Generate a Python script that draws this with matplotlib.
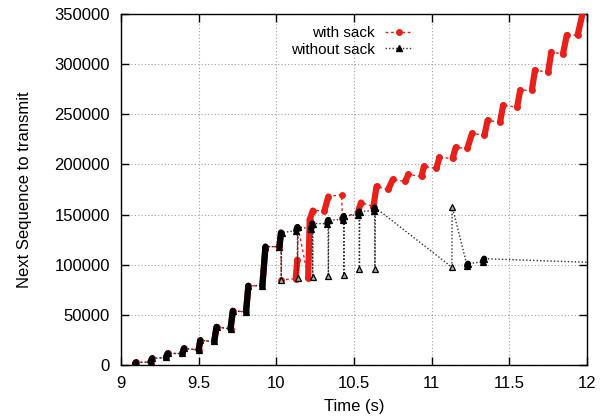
import numpy as np
import matplotlib.pyplot as plt

plt.rcParams['font.family'] = ['Liberation Sans', 'DejaVu Sans']

# sequence trace, "without sack" (path order), flag = 1 -> segment to next point is a packet burst
nosack_t = [9.09, 9.095, 9.19, 9.20, 9.29, 9.30, 9.395, 9.405, 9.50, 9.51,
            9.60, 9.615, 9.705, 9.72, 9.805, 9.82, 9.91, 9.93, 10.02, 10.03,
            10.032, 10.034, 10.128, 10.135, 10.137, 10.139, 10.225, 10.232, 10.234, 10.236,
            10.328, 10.333, 10.335, 10.337, 10.428, 10.433, 10.435, 10.437, 10.528, 10.533,
            10.535, 10.537, 10.628, 10.633, 10.635, 10.637, 11.13, 11.132, 11.228, 11.234,
            11.33, 11.338, 13.0]
nosack_s = [1000, 2500, 3000, 6500, 7500, 11500, 11500, 16500, 15000, 24500,
            23500, 38000, 36000, 54000, 53000, 79000, 79000, 118000, 118000, 132000,
            85000, 132000, 134000, 137500, 86500, 137500, 136000, 141000, 88000, 141000,
            141000, 144500, 88500, 144500, 145000, 148500, 90000, 148500, 150000, 153000,
            95500, 153000, 154000, 157000, 96000, 157000, 97500, 158000, 99000, 101000,
            103000, 106000, 97000]
nosack_burst = [1, 0, 1, 0, 1, 0, 1, 0, 1, 0,
                1, 0, 1, 0, 1, 0, 1, 0, 1, 0,
                0, 0, 1, 0, 0, 0, 1, 0, 0, 0,
                1, 0, 0, 0, 1, 0, 0, 0, 1, 0,
                0, 0, 1, 0, 0, 0, 0, 0, 1, 0,
                1, 0, 0]

# "with sack"
sack_t = [9.09, 9.095, 9.19, 9.20, 9.29, 9.30, 9.395, 9.405, 9.50, 9.51,
          9.60, 9.615, 9.705, 9.72, 9.805, 9.82, 9.91, 9.93, 10.02, 10.03,
          10.032, 10.125, 10.135, 10.14, 10.205, 10.215, 10.235, 10.31, 10.335, 10.42,
          10.425, 10.525, 10.545, 10.625, 10.645, 10.72, 10.75, 10.83, 10.85, 10.935,
          10.95, 11.03, 11.05, 11.135, 11.155, 11.23, 11.26, 11.34, 11.36, 11.44,
          11.46, 11.55, 11.57, 11.645, 11.665, 11.75, 11.77, 11.845, 11.87, 11.94,
          11.975]
sack_s = [1000, 2500, 3000, 6500, 7500, 11500, 11500, 16500, 15000, 24500,
          23500, 38000, 36000, 54000, 53000, 79000, 79000, 118000, 118000, 132000,
          85000, 86000, 105000, 137000, 87000, 145000, 154000, 154000, 168000, 170000,
          147000, 152000, 162000, 158000, 178000, 175000, 185000, 183000, 190000, 188000,
          198000, 196000, 207000, 206000, 217000, 216000, 231000, 229000, 244000, 242000,
          259000, 257000, 274000, 274000, 294000, 292000, 312000, 310000, 329000, 329000,
          353000]
sack_burst = [1, 0, 1, 0, 1, 0, 1, 0, 1, 0,
              1, 0, 1, 0, 1, 0, 1, 0, 1, 0,
              0, 1, 0, 0, 1, 1, 0, 1, 0, 0,
              0, 1, 0, 1, 0, 1, 0, 1, 0, 1,
              0, 1, 0, 1, 0, 1, 0, 1, 0, 1,
              0, 1, 0, 1, 0, 1, 0, 1, 0, 1,
              0]

xticks = [9, 9.5, 10, 10.5, 11, 11.5, 12]
xlabels = ['9', '9.5', '10', '10.5', '11', '11.5', '12']
yticks = [0, 50000, 100000, 150000, 200000, 250000, 300000, 350000]

red = '#e8201a'

fig = plt.figure(figsize=(6.07, 4.19), dpi=100)
ax = fig.add_axes([121/607, 1-365/419, 466/607, 351/419])


def draw(t, s, burst, color, linecolor, ls, marker, mfc, ms, label, z):
    t = np.array(t)
    s = np.array(s)
    burst = np.array(burst)
    ax.plot(t, s, color=linecolor, ls=ls, lw=1, zorder=z)
    inb = np.zeros(len(t), bool)
    for i in range(len(t) - 1):
        if burst[i]:
            inb[i] = inb[i + 1] = True
            ax.plot(t[i:i+2], s[i:i+2], color=color, lw=4.5, solid_capstyle='round', zorder=z)
    ax.plot(t[~inb], s[~inb], ls='none', marker=marker, ms=ms, mfc=mfc, mec=color, mew=0.9, zorder=z)
    ax.plot(t[inb], s[inb], ls='none', marker=marker, ms=ms, mfc=color, mec=color, mew=0.9, zorder=z)
    ax.plot([], [], color=linecolor, ls=ls, lw=1, marker=marker, ms=ms, mfc=color, mec=color, label=label)


draw(sack_t, sack_s, sack_burst, red, red, (0, (2, 2)), 'o', red, 4, 'with sack', 3)
draw(nosack_t, nosack_s, nosack_burst, '#000000', '#303030', (0, (1, 1.5)), '^', '#a8a8a8', 4.5,
     'without sack', 4)

ax.set_xlim(9, 12)
ax.set_ylim(0, 350000)
ax.set_xticks(xticks)
ax.set_xticklabels(xlabels)
ax.set_yticks(yticks)
ax.tick_params(direction='in', length=6, width=1, top=True, right=True, labelsize=12, pad=8)
ax.grid(True, ls=(0, (1, 2)), color='#a0a0a0', lw=0.8)
ax.set_axisbelow(True)
for sp in ax.spines.values():
    sp.set_linewidth(1)

ax.set_xlabel('Time (s)', fontsize=12, labelpad=6)
ax.set_ylabel('Next Sequence to transmit', fontsize=12, labelpad=16)

ax.legend(loc='upper center', bbox_to_anchor=(0.495, 1.0), frameon=False, markerfirst=False,
          fontsize=11, handlelength=1.8, handletextpad=0.7, labelspacing=0.15, borderpad=0.3)

fig.savefig('out.png', dpi=100)
